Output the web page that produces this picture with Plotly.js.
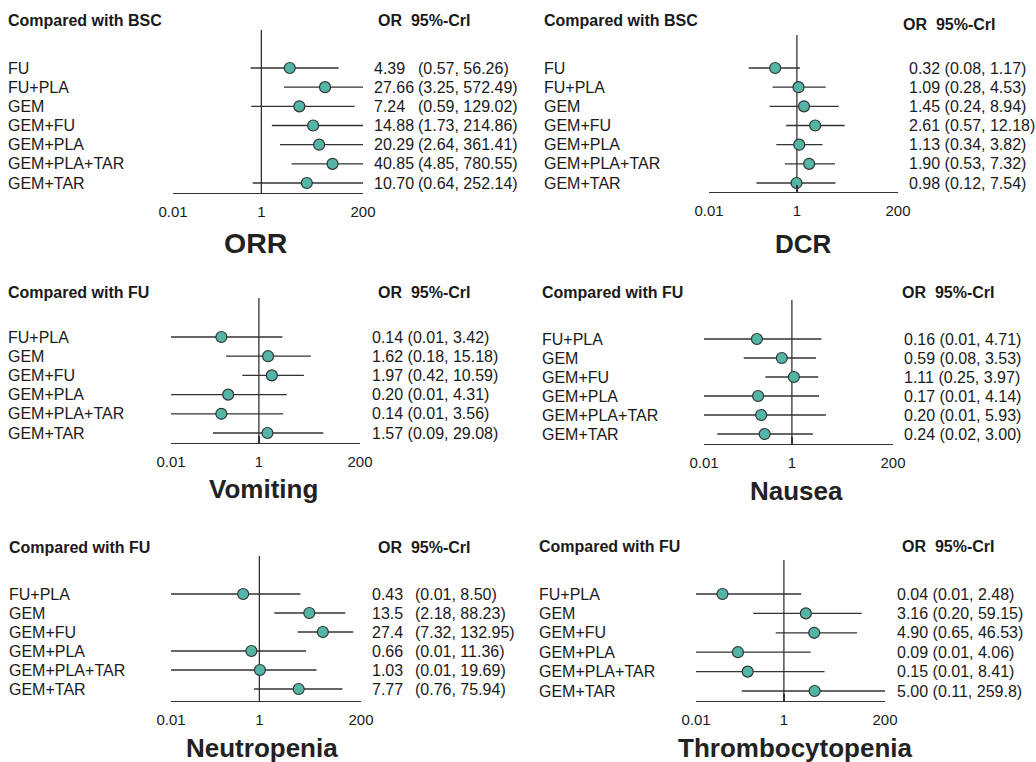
<!DOCTYPE html>
<html>
<head>
<meta charset="utf-8">
<script src="https://cdn.plot.ly/plotly-3.0.1.min.js"></script>
<style>html,body{margin:0;padding:0;background:#fff}#chart{width:1036px;height:762px}</style>
</head>
<body>
<div id="chart"></div>
<script>
// ---------------- data ----------------
const effLabels = ["FU","FU+PLA","GEM","GEM+FU","GEM+PLA","GEM+PLA+TAR","GEM+TAR"];
const aeLabels  = ["FU+PLA","GEM","GEM+FU","GEM+PLA","GEM+PLA+TAR","GEM+TAR"];

const orrOR = ["4.39","27.66","7.24","14.88","20.29","40.85","10.70"];
const orrLo = ["0.57","3.25","0.59","1.73","2.64","4.85","0.64"];
const orrHi = ["56.26","572.49","129.02","214.86","361.41","780.55","252.14"];

const dcrOR = ["0.32","1.09","1.45","2.61","1.13","1.90","0.98"];
const dcrLo = ["0.08","0.28","0.24","0.57","0.34","0.53","0.12"];
const dcrHi = ["1.17","4.53","8.94","12.18","3.82","7.32","7.54"];

const vomOR = ["0.14","1.62","1.97","0.20","0.14","1.57"];
const vomLo = ["0.01","0.18","0.42","0.01","0.01","0.09"];
const vomHi = ["3.42","15.18","10.59","4.31","3.56","29.08"];

const nauOR = ["0.16","0.59","1.11","0.17","0.20","0.24"];
const nauLo = ["0.01","0.08","0.25","0.01","0.01","0.02"];
const nauHi = ["4.71","3.53","3.97","4.14","5.93","3.00"];

const neuOR = ["0.43","13.5","27.4","0.66","1.03","7.77"];
const neuLo = ["0.01","2.18","7.32","0.01","0.01","0.76"];
const neuHi = ["8.50","88.23","132.95","11.36","19.69","75.94"];

const thrOR = ["0.04","3.16","4.90","0.09","0.15","5.00"];
const thrLo = ["0.01","0.20","0.65","0.01","0.01","0.11"];
const thrHi = ["2.48","59.15","46.53","4.06","8.41","259.8"];

const tickVals = [0.01, 1, 200];
const tickText = ["0.01", "1", "200"];
const refValue = 1;

const panelTitles = ["ORR","DCR","Vomiting","Nausea","Neutropenia","Thrombocytopenia"];
const comparators = ["Compared with BSC","Compared with BSC","Compared with FU","Compared with FU","Compared with FU","Compared with FU"];
const orHeader = "OR\u00a0 95%-CrI";

// ---------------- layout geometry (pixels) ----------------
const W = 1036, H = 762;
const FONT = "Liberation Sans, Arial, Helvetica, sans-serif";
const INK = "#1a1a1a";
const LINE = "#333333";
const TEAL = "#52b5a6";

const panels = [
  {labels: effLabels, or: orrOR, lo: orrLo, hi: orrHi, split: true,
   x0: 173, x1: 363, row0: 68, rowLast: 183, axisY: 193, vTop: 30,
   labX: 8, valX: 374, ciX: 418, headY: 20, orHX: 378, orHY: 20, titleX: 255, titleY: 243, titleSize: 28.5},
  {labels: effLabels, or: dcrOR, lo: dcrLo, hi: dcrHi, split: false,
   x0: 709, x1: 898, row0: 68, rowLast: 183, axisY: 192, vTop: 35,
   labX: 544, valX: 909, headY: 20, orHX: 903, orHY: 25, titleX: 803, titleY: 244, titleSize: 26},
  {labels: aeLabels, or: vomOR, lo: vomLo, hi: vomHi, split: false,
   x0: 171, x1: 360, row0: 337, rowLast: 433, axisY: 443, vTop: 298,
   labX: 8, valX: 372, headY: 292, orHX: 378, orHY: 292, titleX: 263, titleY: 489, titleSize: 26},
  {labels: aeLabels, or: nauOR, lo: nauLo, hi: nauHi, split: false,
   x0: 704, x1: 893, row0: 339, rowLast: 434, axisY: 444, vTop: 300,
   labX: 542, valX: 904, headY: 292, orHX: 902, orHY: 292, titleX: 796, titleY: 491, titleSize: 26},
  {labels: aeLabels, or: neuOR, lo: neuLo, hi: neuHi, split: true,
   x0: 171, x1: 361, row0: 594, rowLast: 689, axisY: 701, vTop: 556,
   labX: 9, valX: 372, ciX: 415, headY: 547, orHX: 378, orHY: 547, titleX: 262, titleY: 748, titleSize: 26},
  {labels: aeLabels, or: thrOR, lo: thrLo, hi: thrHi, split: false,
   x0: 696, x1: 885, row0: 594, rowLast: 691, axisY: 701, vTop: 560,
   labX: 539, valX: 897, headY: 546, orHX: 902, orHY: 546, titleX: 795, titleY: 748, titleSize: 26}
];

const traces = [];
const annotations = [];
const layout = {
  width: W, height: H,
  margin: {l: 0, r: 0, t: 0, b: 0},
  paper_bgcolor: "#ffffff", plot_bgcolor: "rgba(0,0,0,0)",
  showlegend: false,
  font: {family: FONT, color: INK},
  annotations: annotations
};

const px = v => v / W;
const py = v => 1 - v / H;
const LABEL_SIZE = 16;
const HEAD_SIZE = 16;

panels.forEach((p, k) => {
  const idx = k + 1;
  const xa = idx === 1 ? "x" : "x" + idx;
  const ya = idx === 1 ? "y" : "y" + idx;
  const xKey = idx === 1 ? "xaxis" : "xaxis" + idx;
  const yKey = idx === 1 ? "yaxis" : "yaxis" + idx;
  const n = p.labels.length;
  const sp = (p.rowLast - p.row0) / (n - 1);
  const yBottom = (p.axisY - p.row0) / sp;
  const yTop = (p.vTop - p.row0) / sp;
  const rows = p.labels.map((_, i) => i);

  layout[xKey] = {
    type: "log", domain: [px(p.x0), px(p.x1)], anchor: ya,
    range: [Math.log10(tickVals[0]), Math.log10(tickVals[tickVals.length - 1])],
    tickmode: "array", tickvals: tickVals, ticktext: tickText,
    ticks: "inside", ticklen: 7, tickwidth: 1.3, tickcolor: LINE,
    ticklabelstandoff: 5,
    showline: true, linecolor: LINE, linewidth: 1.3,
    showgrid: false, zeroline: false, fixedrange: true,
    tickfont: {size: 15, color: INK, family: FONT}
  };
  layout[yKey] = {
    domain: [py(p.axisY), py(p.vTop)], anchor: xa,
    range: [yBottom, yTop], visible: false, showgrid: false, zeroline: false, fixedrange: true
  };

  // reference line at OR = 1
  traces.push({
    type: "scatter", mode: "lines", xaxis: xa, yaxis: ya,
    x: [refValue, refValue], y: [yTop, yBottom],
    line: {color: LINE, width: 1.3}, hoverinfo: "skip"
  });

  // credible interval whiskers
  const wx = [], wy = [];
  rows.forEach(i => {
    wx.push(parseFloat(p.lo[i]), parseFloat(p.hi[i]), null);
    wy.push(i, i, null);
  });
  traces.push({
    type: "scatter", mode: "lines", xaxis: xa, yaxis: ya,
    x: wx, y: wy, line: {color: LINE, width: 1.3}, hoverinfo: "skip"
  });

  // point estimates
  traces.push({
    type: "scatter", mode: "markers", xaxis: xa, yaxis: ya, cliponaxis: false,
    x: p.or.map(parseFloat), y: rows,
    marker: {symbol: "circle", size: 11, color: TEAL, line: {color: LINE, width: 1.2}},
    text: p.labels, hoverinfo: "text+x"
  });

  // row labels and values
  rows.forEach(i => {
    annotations.push({
      xref: "paper", yref: ya, x: px(p.labX - 2), y: i,
      xanchor: "left", yanchor: "middle", showarrow: false,
      text: p.labels[i], font: {size: LABEL_SIZE, color: INK, family: FONT}
    });
    if (p.split) {
      annotations.push({
        xref: "paper", yref: ya, x: px(p.valX - 2), y: i,
        xanchor: "left", yanchor: "middle", showarrow: false,
        text: p.or[i], font: {size: LABEL_SIZE, color: INK, family: FONT}
      });
      annotations.push({
        xref: "paper", yref: ya, x: px(p.ciX - 2), y: i,
        xanchor: "left", yanchor: "middle", showarrow: false,
        text: "(" + p.lo[i] + ", " + p.hi[i] + ")", font: {size: LABEL_SIZE, color: INK, family: FONT}
      });
    } else {
      annotations.push({
        xref: "paper", yref: ya, x: px(p.valX - 2), y: i,
        xanchor: "left", yanchor: "middle", showarrow: false,
        text: p.or[i] + " (" + p.lo[i] + ", " + p.hi[i] + ")", font: {size: LABEL_SIZE, color: INK, family: FONT}
      });
    }
  });

  // headers
  annotations.push({
    xref: "paper", yref: "paper", x: px(p.labX - 2), y: py(p.headY),
    xanchor: "left", yanchor: "middle", showarrow: false,
    text: "<b>" + comparators[k] + "</b>", font: {size: HEAD_SIZE, color: INK, family: FONT}
  });
  annotations.push({
    xref: "paper", yref: "paper", x: px(p.orHX - 2), y: py(p.orHY),
    xanchor: "left", yanchor: "middle", showarrow: false,
    text: "<b>" + orHeader + "</b>", font: {size: HEAD_SIZE, color: INK, family: FONT}
  });
  // panel title
  annotations.push({
    xref: "paper", yref: "paper", x: px(p.titleX), y: py(p.titleY),
    xanchor: "center", yanchor: "middle", showarrow: false,
    text: "<b>" + panelTitles[k] + "</b>", font: {size: p.titleSize, color: "#222", family: FONT}
  });
});

Plotly.newPlot("chart", traces, layout, {displayModeBar: false, staticPlot: true});
</script>
</body>
</html>
